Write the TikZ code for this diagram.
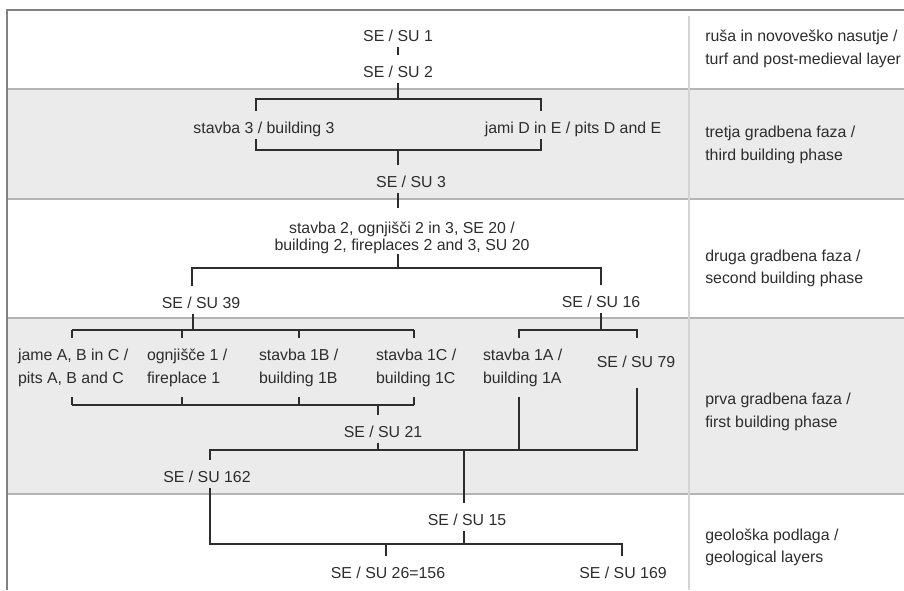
\documentclass[tikz,border=0pt]{standalone}
\usepackage{fontspec}
\setmainfont{Liberation Sans}
\usepackage{xcolor}
\definecolor{bandgray}{RGB}{235,235,235}
\definecolor{rulegray}{RGB}{180,180,180}
\definecolor{framegray}{RGB}{130,130,130}
\definecolor{divgray}{RGB}{212,212,212}
\definecolor{inkgray}{RGB}{45,45,45}

\begin{document}
\begin{tikzpicture}[x=0.75pt, y=-0.75pt,
    unit/.style={anchor=base, inner sep=0pt, outer sep=0pt, text height=17pt, text depth=4pt,
        font=\fontsize{11.9}{14}\selectfont, text=inkgray},
    row/.style={anchor=north west, align=left, inner xsep=0pt, inner ysep=8pt, outer sep=0pt,
        font=\fontsize{11.9}{17.25}\selectfont, text=inkgray},
    phase/.style={anchor=west, align=left, inner sep=0pt,
        font=\fontsize{11.9}{16.9}\selectfont, text=inkgray},
    link/.style={draw=inkgray, line width=0.9pt}]
\useasboundingbox (0,0) rectangle (904,590);

% Bands and frame
\foreach \ya/\yb in {89/199, 318/494}
    \fill[bandgray] (6.5,\ya) rectangle (904,\yb);
\foreach \y in {89,199,318,494}
    \draw[rulegray, line width=0.9pt] (6.5,\y) -- (904,\y);
\draw[divgray, line width=1.1pt] (689,16) -- (689,590);
\draw[framegray, line width=1.5pt] (904,9.5) -- (6.5,9.5) -- (6.5,590);

% Phase labels
\node[phase] (ph1) at (705,49) {ruša in novoveško nasutje /\\turf and post-medieval layer};
\node[phase] (ph2) at (705,145) {tretja gradbena faza /\\third building phase};
\node[phase] (ph3) at (705,268.5) {druga gradbena faza /\\second building phase};
\node[phase] (ph4) at (705,412) {prva gradbena faza /\\first building phase};
\node[phase] (ph5) at (705,547.5) {geološka podlaga /\\geological layers};

% Turf
\node[unit] (su1) at (398,41.6) {SE / SU 1};
\node[unit] (su2) at (398,77.6) {SE / SU 2};
\draw[link] (su1) -- (su2);

% Third building phase
\node[unit] (b3) at (264,133.6) {stavba 3 / building 3};
\node[unit] (pde) at (573,133.6) {jami D in E / pits D and E};
\node[unit] (su3) at (411,187.6) {SE / SU 3};
\coordinate (k3) at (398,99);
\coordinate (t3a) at (256,99);
\coordinate (t3b) at (541,99);
\coordinate (u3a) at (256,150);
\coordinate (u3b) at (541,150);
\draw[link] (su2) -- (k3);
\draw[link] (b3.north -| t3a) -- (t3a) -- (t3b) -- (pde.north -| t3b);
\draw[link] (b3.south -| u3a) -- (u3a) -- (u3b) -- (pde.south -| u3b);
\draw[link] (u3a -| k3) -- (su3.north -| k3);

% Second building phase
\node[inner sep=0pt, align=center, font=\fontsize{11.9}{12.75}\selectfont, text=inkgray] (s2)
    at (402,238) {stavba 2, ognjišči 2 in 3, SE 20 /\\building 2, fireplaces 2 and 3, SU 20};
\node[unit] (su39) at (201,308.6) {SE / SU 39};
\node[unit] (su16) at (601,307.6) {SE / SU 16};
\coordinate (k2) at (398,268);
\coordinate (t2a) at (192,268);
\coordinate (t2b) at (601,268);
\draw[link] (su3.south -| k3) -- ([yshift=10.5pt]s2.north -| k3);
\draw[link] (s2.south -| k2) -- (k2);
\draw[link] (su39.north -| t2a) -- (t2a) -- (t2b) -- (su16.north);

% First building phase
\node[row] (jame) at (18,338) {jame A, B in C /\\pits A, B and C};
\node[row] (ognj) at (147,338) {ognjišče 1 /\\fireplace 1};
\node[row] (st1b) at (259,338) {stavba 1B /\\building 1B};
\node[row] (st1c) at (376,338) {stavba 1C /\\building 1C};
\node[row] (st1a) at (483,338) {stavba 1A /\\building 1A};
\node[unit, text height=22pt, text depth=15pt] (su79) at (636,367.6) {SE / SU 79};
\node[unit] (su21) at (383,437.6) {SE / SU 21};
\node[unit] (su162) at (207,482.6) {SE / SU 162};

\coordinate (k39) at (193,330);
\coordinate (k16) at (601,330);
\draw[link] (su39.south -| k39) -- (k39);
\draw[link] (su16) -- (k16);
\foreach \n/\x in {jame/72, ognj/182, st1b/299, st1c/414} {
    \coordinate (t\n) at (\x,330);
    \coordinate (b\n) at (\x,405);
    \draw[link] (t\n) -- (\n.north -| t\n);
    \draw[link] (\n.south -| b\n) -- (b\n);
}
\draw[link] (tjame) -- (tst1c);
\draw[link] (bjame) -- (bst1c);

\coordinate (t1e) at (519,330);
\coordinate (t1f) at (637,330);
\draw[link] (st1a.north -| t1e) -- (t1e) -- (t1f) -- (su79.north -| t1f);

\coordinate (k21) at (378,405);
\coordinate (m1) at (210,450);
\coordinate (m2) at (637,450);
\coordinate (k15) at (464,450);
\draw[link] (k21) -- (su21.north -| k21);
\draw[link] (su21.south -| k21) -- (k21 |- m1);
\draw[link] (st1a.south -| t1e) -- (t1e |- m1);
\draw[link] (su162.north -| m1) -- (m1) -- (m2) -- (su79.south -| m2);

% Geological layers
\node[unit] (su15) at (467,525.6) {SE / SU 15};
\node[unit] (su26) at (388,578.6) {SE / SU 26=156};
\node[unit] (su169) at (623,578.6) {SE / SU 169};
\coordinate (m3) at (210,544);
\coordinate (m4) at (622,544);
\coordinate (k26) at (386,544);
\draw[link] (k15) -- (su15.north -| k15);
\draw[link] (su162.south -| m3) -- (m3) -- (m4) -- (su169.north -| m4);
\draw[link] (su15.south -| k15) -- (k15 |- m3);
\draw[link] (k26) -- (su26.north -| k26);

\end{tikzpicture}
\end{document}
